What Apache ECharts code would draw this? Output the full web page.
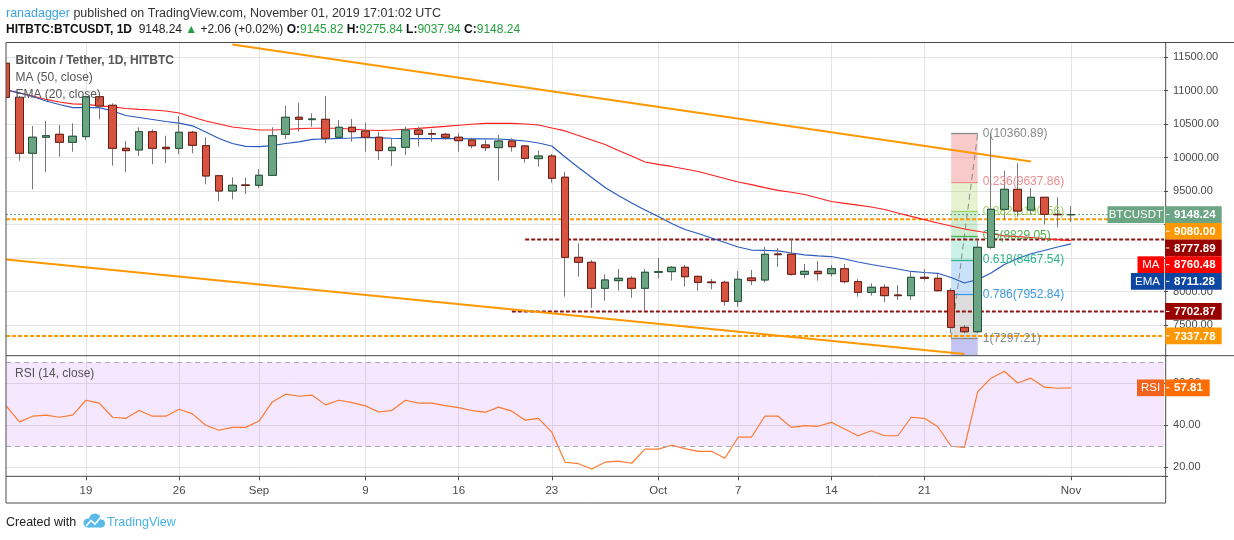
<!DOCTYPE html>
<html><head><meta charset="utf-8">
<script src="https://cdn.jsdelivr.net/npm/echarts@6/dist/echarts.min.js"></script>
<style>html,body{margin:0;padding:0;background:#fff;}#c{width:1234px;height:540px;}</style>
</head><body><div id="c"></div>
<script>
// ---------------- data ----------------
const firstDay = '2019-08-13';
const dayCount = 88; // axis domain (last candle is Nov 1, index 80)
const tickDates = ['2019-08-19','2019-08-26','2019-09-01','2019-09-09','2019-09-16','2019-09-23','2019-10-01','2019-10-07','2019-10-14','2019-10-21','2019-11-01'];
const tickLabels = ['19','26','Sep','9','16','23','Oct','7','14','21','Nov'];

const candleOpen  = [11406,10898,10063,10302,10346,10227,10311,10907,10779,10137,10112,10385,10152,10137,10376,10176,9728,9500,9590,9585,
  9734,10346,10600,10565,10570,10302,10451,10396,10302,10102,10152,10410,10355,10346,10302,10261,10187,10147,10246,10172,
  9983,10022,9705,8510,8436,8048,8162,8197,8048,8287,8296,8361,8226,8142,8137,7854,8202,8172,8560,8555,
  8257,8301,8266,8340,8147,7988,8063,7948,7938,8212,8197,8012,7465,7400,8660,9227,9525,9216,9406,9152,9145.82];
const candleClose = [10898,10063,10302,10325,10227,10317,10907,10769,10137,10102,10385,10137,10131,10376,10182,9724,9500,9585,9582,9734,
  10325,10600,10570,10575,10287,10451,10385,10302,10102,10152,10410,10346,10350,10302,10251,10176,10147,10246,10161,9988,
  10022,9690,8510,8436,8048,8172,8197,8048,8287,8296,8361,8221,8137,8132,7854,8182,8162,8555,8550,8257,
  8301,8266,8340,8147,7988,8063,7938,7938,8212,8197,8012,7465,7400,8660,9227,9525,9201,9406,9152,9146.18,9148.24];
const candleLow   = [10800,9952,9525,9788,10012,10087,10261,10570,9878,9779,10022,9899,9913,10048,10063,9600,9351,9376,9455,9540,
  9728,10276,10385,10460,10212,10287,10236,10087,9963,9873,10037,10161,10236,10261,10087,10137,10097,9654,10087,9922,
  9863,9624,7923,8221,7758,7863,8012,7908,7714,8197,8162,8072,8012,8033,7788,7773,8097,8132,8366,8236,
  8197,8162,8221,8122,7923,7938,7839,7873,7873,8162,8000,7376,7376,7376,8630,9082,9117,9142,9003,8958,9037.94];
const candleHigh  = [11450,10920,10470,10545,10485,10510,10922,10928,10809,10246,10450,10421,10325,10619,10400,10302,9735,9704,9699,9828,
  10450,10769,10818,10660,10918,10560,10575,10520,10385,10287,10460,10460,10421,10370,10361,10296,10261,10336,10287,10187,
  10102,10052,9788,8719,8470,8257,8336,8231,8336,8500,8381,8396,8240,8187,8162,8306,8321,8664,8649,8784,
  8410,8455,8396,8410,8187,8122,8107,8097,8296,8336,8261,8048,7500,8779,10361,9803,9913,9540,9410,9406,9275.84];

const ma50 = [11007,10963,10918,10866,10828,10799,10794,10769,10754,10731,10719,10709,10694,10664,10604,10545,10500,10455,10433,10410,
  10410,10418,10430,10436,10436,10436,10421,10410,10403,10410,10421,10433,10448,10463,10481,10496,10510,10510,10510,10500,
  10485,10440,10396,10328,10261,10194,10105,10022,9933,9896,9866,9828,9791,9739,9687,9634,9594,9549,9508,9481,
  9448,9396,9343,9316,9288,9261,9224,9172,9122,9072,9022,8978,8933,8899,8866,8831,8819,8806,8788,8775,8760.48];
const ema20 = [11007,10963,10910,10843,10791,10743,10743,10743,10694,10627,10597,10567,10537,10512,10473,10381,10284,10209,10167,10161,
  10176,10209,10234,10269,10276,10284,10291,10300,10294,10287,10282,10281,10281,10281,10281,10279,10278,10276,10264,10246,
  10216,10172,10007,9851,9702,9552,9433,9321,9216,9119,9015,8925,8866,8799,8731,8664,8619,8615,8605,8575,
  8548,8531,8522,8485,8440,8403,8369,8336,8299,8284,8272,8209,8127,8179,8276,8403,8493,8563,8612,8664,8711.28];
const rsi14 = [49.2,41.6,44.3,44.8,43.8,44.8,51.9,50.5,43.8,43.3,47.0,44.3,44.3,47.6,45.4,40.0,37.6,39.0,39.0,42.0,
  51.1,54.8,53.8,54.3,49.7,51.9,50.8,49.2,46.3,47.1,51.9,50.5,50.5,49.3,48.4,47.0,46.2,48.6,46.7,42.4,
  43.3,36.7,22.4,21.7,19.2,22.4,22.9,21.9,28.6,28.6,30.5,28.9,27.6,27.6,24.3,34.3,34.3,44.3,44.3,39.0,
  39.8,39.5,41.4,38.2,35.0,37.4,35.0,35.0,43.8,43.3,39.3,30.0,29.5,56.0,62.4,65.7,60.1,62.4,58.1,57.6,57.81];

// drawings: [index, price]
const upperTrend = [[17, 11686], [77, 9941]];
const lowerTrend = [[0, 8477], [72, 7066]];
const levelOrange = [9080.00, 7337.78];
const levelRed = [8777.89, 7702.87];
const levelRedStart = [39, 38];
const fibHigh = 10360.89, fibLow = 7297.21;
const fibStart = 71, fibEnd = 73;
const fibLevels = [0, 0.236, 0.382, 0.5, 0.618, 0.786, 1, 1.272];
const rsiBand = [30, 70];

// ---------------- styles ----------------
const fibLineColors = ['#8a8a8a','#ec8c8c','#a3cf66','#4caf50','#2bb58a','#3b9be2','#8a8a8a'];
const fibZoneColors = ['rgba(236,80,80,0.30)','rgba(170,210,90,0.28)','rgba(80,190,90,0.28)','rgba(40,200,150,0.25)','rgba(40,140,230,0.25)','rgba(150,150,150,0.32)','rgba(100,100,220,0.38)'];
const FONT = "'Liberation Sans', Arial, sans-serif";

// ---------------- build ----------------
const cats = [];
{
  const d0 = new Date(firstDay + 'T00:00:00Z');
  for (let i = 0; i < dayCount; i++) {
    const d = new Date(d0.getTime() + i * 86400000);
    cats.push(d.toISOString().slice(0, 10));
  }
}
const tickMap = {};
tickDates.forEach((d, i) => tickMap[d] = tickLabels[i]);
const isTick = (idx, val) => tickMap.hasOwnProperty(val !== undefined ? val : cats[idx]);

const ohlcFull = candleOpen.map((o, i) => [o, candleClose[i], candleLow[i], candleHigh[i]]);
const ohlcBody = candleOpen.map((o, i) => [o, candleClose[i], Math.min(o, candleClose[i]), Math.max(o, candleClose[i])]);
const lastClose = candleClose[candleClose.length - 1];

const yMin = 7042, yMax = 11713;
const rMin = 15.7, rMax = 73.1;

const fibPrice = l => fibHigh - l * (fibHigh - fibLow);
const fibZones = [];
for (let i = 0; i < fibLevels.length - 1; i++) {
  const a = fibPrice(fibLevels[i]);
  const b = Math.max(fibPrice(fibLevels[i + 1]), yMin);
  fibZones.push([{ coord: [fibStart, a], itemStyle: { color: fibZoneColors[i] } }, { coord: [fibEnd, b] }]);
}
const fibMarkLines = [];
for (let i = 0; i < fibLevels.length - 1; i++) {
  const p = fibPrice(fibLevels[i]);
  fibMarkLines.push([
    { coord: [fibStart, p], lineStyle: { color: fibLineColors[i], width: 1.3, type: 'solid' },
      label: { show: true, position: 'end', distance: 5, color: fibLineColors[i], fontSize: 12, fontFamily: FONT,
               formatter: fibLevels[i] + '(' + p.toFixed(2) + ')' } },
    { coord: [fibEnd, p] }
  ]);
}

const gridL = 6.1, stepPx = 13.31;
const gridW = (dayCount - 1) * stepPx;

const xCommon = {
  type: 'category', data: cats, boundaryGap: false,
  axisLine: { show: false },
  splitLine: { show: true, interval: isTick, lineStyle: { color: '#e4e4e4', width: 1 } }
};

const chart = echarts.init(document.getElementById('c'));
chart.setOption({
  animation: false,
  backgroundColor: '#ffffff',
  grid: [
    { left: gridL, top: 42.7, width: gridW, height: 313 },
    { left: gridL, top: 355.7, width: gridW, height: 120.6 }
  ],
  xAxis: [
    Object.assign({}, xCommon, { gridIndex: 0, axisTick: { show: false }, axisLabel: { show: false } }),
    Object.assign({}, xCommon, { gridIndex: 1,
      axisTick: { show: true, interval: isTick, length: 4, lineStyle: { color: '#4a4a4a' } },
      axisLabel: { show: true, interval: isTick, formatter: v => tickMap[v] || '', color: '#4a4a4a', fontSize: 11.5, fontFamily: FONT, margin: 9 } })
  ],
  yAxis: [
    { type: 'value', gridIndex: 0, position: 'right', min: yMin, max: yMax, splitNumber: 10, scale: true,
      axisLine: { show: false },
      axisTick: { show: true, length: 4, lineStyle: { color: '#4a4a4a' } },
      axisLabel: { color: '#4a4a4a', fontSize: 11, fontFamily: FONT, margin: 9,
                   formatter: v => (Math.abs(v % 500) < 1e-6 ? v.toFixed(2) : '') },
      splitLine: { show: true, lineStyle: { color: '#e4e4e4' } } },
    { type: 'value', gridIndex: 1, position: 'right', min: rMin, max: rMax, splitNumber: 3, scale: true,
      axisLine: { show: false },
      axisTick: { show: true, length: 4, lineStyle: { color: '#4a4a4a' } },
      axisLabel: { color: '#4a4a4a', fontSize: 11, fontFamily: FONT, margin: 9,
                   formatter: v => (Math.abs(v % 20) < 1e-6 ? v.toFixed(2) : '') },
      splitLine: { show: true, lineStyle: { color: '#e4e4e4' } } }
  ],
  series: [
    { // fib retracement drawing
      name: 'fib', type: 'line', xAxisIndex: 0, yAxisIndex: 0, z: 1, clip: true,
      data: [[fibStart, fibLow], [fibEnd, fibHigh]], symbol: 'none',
      lineStyle: { color: '#8a8a8a', width: 1, type: [6, 4] },
      markArea: { silent: true, data: fibZones },
      markLine: { silent: true, symbol: ['none', 'none'], data: fibMarkLines }
    },
    { name: 'lastPrice', type: 'line', xAxisIndex: 0, yAxisIndex: 0, z: 2, symbol: 'none',
      data: [[0, lastClose], [dayCount - 1, lastClose]], lineStyle: { color: '#5a9e77', width: 1, type: [2, 2] } },
    ...levelOrange.map(v => ({ type: 'line', xAxisIndex: 0, yAxisIndex: 0, z: 2, symbol: 'none',
      data: [[0, v], [dayCount - 1, v]], lineStyle: { color: '#ff9800', width: 2, type: [4, 2] } })),
    ...levelRed.map((v, i) => ({ type: 'line', xAxisIndex: 0, yAxisIndex: 0, z: 2, symbol: 'none',
      data: [[levelRedStart[i], v], [dayCount - 1, v]], lineStyle: { color: '#8e1414', width: 2, type: [4, 2] } })),
    { type: 'line', xAxisIndex: 0, yAxisIndex: 0, z: 2, symbol: 'none', data: upperTrend, lineStyle: { color: '#ff9800', width: 2 } },
    { type: 'line', xAxisIndex: 0, yAxisIndex: 0, z: 2, symbol: 'none', data: lowerTrend, lineStyle: { color: '#ff9800', width: 2 } },
    { name: 'MA', type: 'line', xAxisIndex: 0, yAxisIndex: 0, z: 3, symbol: 'none', data: ma50, lineStyle: { color: '#ff2020', width: 1.2 } },
    { name: 'EMA', type: 'line', xAxisIndex: 0, yAxisIndex: 0, z: 3, symbol: 'none', data: ema20, lineStyle: { color: '#2a5bbf', width: 1.2 } },
    { name: 'wicks', type: 'candlestick', xAxisIndex: 0, yAxisIndex: 0, z: 4, clip: true, barWidth: 8, data: ohlcFull,
      itemStyle: { color: '#6ba583', color0: '#d75442', borderColor: '#787878', borderColor0: '#787878', borderWidth: 1 } },
    { name: 'BTCUSDT', type: 'candlestick', xAxisIndex: 0, yAxisIndex: 0, z: 5, clip: true, barWidth: 8, data: ohlcBody,
      itemStyle: { color: '#6ba583', color0: '#d75442', borderColor: '#225437', borderColor0: '#6b1d12', borderWidth: 1 } },
    { name: 'RSI', type: 'line', xAxisIndex: 1, yAxisIndex: 1, z: 3, symbol: 'none', data: rsi14,
      lineStyle: { color: '#ff7a30', width: 1.2 },
      markArea: { silent: true, itemStyle: { color: 'rgba(170,60,240,0.12)' }, data: [[{ yAxis: rsiBand[0] }, { yAxis: rsiBand[1] }]] },
      markLine: { silent: true, symbol: ['none', 'none'], label: { show: false },
        lineStyle: { color: '#aaa6b8', width: 1, type: [5, 4] }, data: [{ yAxis: rsiBand[1] }, { yAxis: rsiBand[0] }] } }
  ]
});

// ---------------- overlays: texts, frame, price tags ----------------
const G = [];
const line = (x1, y1, x2, y2, c) => G.push({ type: 'line', z: 200, shape: { x1, y1, x2, y2 }, style: { stroke: c || '#4a4a4a', lineWidth: 1 } });
const txt = (x, y, text, opt) => G.push({ type: 'text', z: 210, style: Object.assign({ x, y, text, font: '12px ' + FONT, fill: '#555', verticalAlign: 'middle' }, opt || {}) });

// mask the part of the first candle that lies left of the chart frame
G.push({ type: 'rect', z: 150, shape: { x: 0, y: 42.5, width: 6, height: 314 }, style: { fill: '#fff' } });

// frame
line(6, 42.5, 1234, 42.5);
line(6, 42.5, 6, 503);
line(6, 355.7, 1234, 355.7);
line(6, 476.3, 1165.7, 476.3);
line(6, 503, 1165.7, 503);
line(1165.7, 42.5, 1165.7, 503);

// header
G.push({ type: 'text', z: 210, style: { x: 6, y: 13.5, verticalAlign: 'middle', font: '12.5px ' + FONT,
  text: '{u|ranadagger}{n| published on TradingView.com, November 01, 2019 17:01:02 UTC}',
  rich: { u: { fill: '#3aa3e3', font: '12.5px ' + FONT }, n: { fill: '#333', font: '12.5px ' + FONT } } } });
const o = candleOpen[candleOpen.length - 1], h = candleHigh[candleHigh.length - 1], l = candleLow[candleLow.length - 1];
const prevClose = candleClose[candleClose.length - 2];
const chg = lastClose - prevClose;
G.push({ type: 'text', z: 210, style: { x: 6, y: 30, verticalAlign: 'middle', font: '12px ' + FONT,
  text: '{b|HITBTC:BTCUSDT, 1D}{n|  ' + lastClose.toFixed(2) + ' }{g|▲}{n| +' + chg.toFixed(2) + ' (+' + (chg / prevClose * 100).toFixed(2) + '%) }' +
        '{b|O:}{g|' + o.toFixed(2) + '} {b|H:}{g|' + h.toFixed(2) + '} {b|L:}{g|' + l.toFixed(2) + '} {b|C:}{g|' + lastClose.toFixed(2) + '}',
  rich: { b: { fill: '#111', font: 'bold 12px ' + FONT }, n: { fill: '#222', font: '12px ' + FONT }, g: { fill: '#22a03c', font: '12px ' + FONT } } } });

// legends
txt(15.5, 61, 'Bitcoin / Tether, 1D, HITBTC', { font: 'bold 12px ' + FONT, fill: '#555' });
txt(15.5, 78, 'MA (50, close)', { font: '12px ' + FONT, fill: '#555' });
txt(15.5, 94.5, 'EMA (20, close)', { font: '12px ' + FONT, fill: '#555' });
txt(15, 373.5, 'RSI (14, close)', { font: '12px ' + FONT, fill: '#555' });

// footer with a simple logo
txt(6, 522.5, 'Created with', { font: '12.5px ' + FONT, fill: '#222' });
G.push({ type: 'circle', z: 210, shape: { cx: 88, cy: 523, r: 4.5 }, style: { fill: '#5bbbe8' } });
G.push({ type: 'circle', z: 210, shape: { cx: 95, cy: 519.5, r: 6 }, style: { fill: '#5bbbe8' } });
G.push({ type: 'circle', z: 210, shape: { cx: 101, cy: 523.5, r: 4 }, style: { fill: '#5bbbe8' } });
G.push({ type: 'rect', z: 210, shape: { x: 88, y: 523, width: 13, height: 4.5 }, style: { fill: '#5bbbe8' } });
G.push({ type: 'polyline', z: 211, shape: { points: [[86, 526], [91, 520.5], [95, 524], [101, 517]] }, style: { stroke: '#fff', lineWidth: 1.6, fill: null } });
txt(107, 522.5, 'TradingView', { font: '12.5px ' + FONT, fill: '#45b3e6' });

// price tags (stacked like the original)
const tags = [
  { value: lastClose, color: '#6ba583', label: 'BTCUSDT', lw: 56.7 },
  { value: levelOrange[0], color: '#ff9800' },
  { value: levelRed[0], color: '#990000' },
  { value: ma50[ma50.length - 1], color: '#ff0000', label: 'MA', lw: 26.7 },
  { value: ema20[ema20.length - 1], color: '#0d47a1', label: 'EMA', lw: 33.3 },
  { value: levelRed[1], color: '#990000' },
  { value: levelOrange[1], color: '#ff9800' }
];
const TH = 16.7;
const placed = tags.map(t => Object.assign({}, t, { py: chart.convertToPixel({ gridIndex: 0 }, [0, t.value])[1] }));
placed.sort((a, b) => a.py - b.py);
let prevBottom = -1e9;
placed.forEach(t => {
  const top = Math.max(t.py - TH / 2, prevBottom);
  prevBottom = top + TH;
  G.push({ type: 'rect', z: 220, shape: { x: 1165.2, y: top, width: 56.5, height: TH }, style: { fill: t.color } });
  G.push({ type: 'line', z: 221, shape: { x1: 1166, y1: top + TH / 2, x2: 1169.5, y2: top + TH / 2 }, style: { stroke: '#fff', lineWidth: 1 } });
  G.push({ type: 'text', z: 222, style: { x: 1174, y: top + TH / 2 + 0.5, text: t.value.toFixed(2), fill: '#fff', font: 'bold 11.5px ' + FONT, verticalAlign: 'middle' } });
  if (t.label) {
    G.push({ type: 'rect', z: 220, shape: { x: 1164.2 - t.lw, y: top, width: t.lw, height: TH }, style: { fill: t.color } });
    G.push({ type: 'text', z: 222, style: { x: 1164.2 - t.lw / 2, y: top + TH / 2 + 0.5, text: t.label, fill: '#fff', font: '11.5px ' + FONT, align: 'center', verticalAlign: 'middle' } });
  }
});
// RSI tag
{
  const rv = rsi14[rsi14.length - 1];
  const py = chart.convertToPixel({ gridIndex: 1 }, [0, rv])[1];
  const top = py - TH / 2;
  G.push({ type: 'rect', z: 220, shape: { x: 1137, y: top, width: 27.2, height: TH }, style: { fill: '#f2641e' } });
  G.push({ type: 'text', z: 222, style: { x: 1150.6, y: top + TH / 2 + 0.5, text: 'RSI', fill: '#fff', font: '11.5px ' + FONT, align: 'center', verticalAlign: 'middle' } });
  G.push({ type: 'rect', z: 220, shape: { x: 1165.2, y: top, width: 44.5, height: TH }, style: { fill: '#ff6d00' } });
  G.push({ type: 'line', z: 221, shape: { x1: 1166, y1: top + TH / 2, x2: 1169.5, y2: top + TH / 2 }, style: { stroke: '#fff', lineWidth: 1 } });
  G.push({ type: 'text', z: 222, style: { x: 1174, y: top + TH / 2 + 0.5, text: rv.toFixed(2), fill: '#fff', font: 'bold 11.5px ' + FONT, verticalAlign: 'middle' } });
}
chart.setOption({ graphic: G });
</script>
</body></html>
